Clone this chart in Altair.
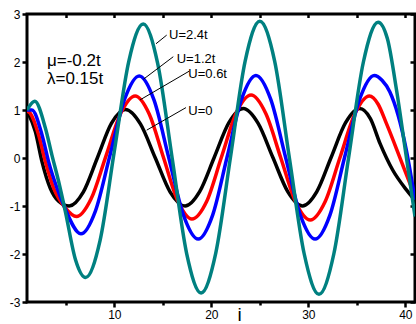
import altair as alt
import pandas as pd

# ---- data ----
series_names = ["U=0", "U=0.6t", "U=1.2t", "U=2.4t"]
series_colors = ["#000000", "#ff0000", "#0000ff", "#008080"]

x_u0 = [1, 1.86, 2.55, 3.4, 4.26, 5.35, 6.8, 8.25, 9.7, 11.15, 12.69, 14.23, 15.76, 17.3,
        18.8, 20.3, 21.8, 23.3, 24.83, 26.35, 27.88, 29.4, 30.88, 32.35, 33.83, 35.3,
        36.4, 37.4, 38.7, 40.1, 41]
y_u0 = [0.98, 0.55, -0.08, -0.63, -0.9, -1.0, -0.71, 0.0, 0.72, 1.01, 0.71, 0.0, -0.71, -1.0,
        -0.70, 0.01, 0.73, 1.03, 0.72, 0.01, -0.70, -1.0, -0.70, 0.01, 0.73, 1.03,
        0.82, 0.3, -0.25, -0.66, -0.88]

x_u06 = [1, 1.34, 2.2, 2.9, 3.75, 4.95, 6.1, 7.61, 9.12, 10.64, 12.15, 13.61, 15.07, 16.54, 18.0,
         19.53, 21.05, 22.58, 24.1, 25.63, 27.15, 28.68, 30.2, 31.73, 33.25, 34.78, 36.3,
         37.2, 38.05, 39.4, 40.45, 41]
y_u06 = [0.98, 0.93, 0.48, -0.08, -0.63, -1.04, -1.22, -0.85, 0.03, 0.92, 1.29, 0.91, 0.01, -0.89, -1.27,
         -0.90, 0.02, 0.94, 1.31, 0.92, 0.01, -0.91, -1.29, -0.91, 0.0, 0.91, 1.29,
         1.12, 0.72, 0.03, -0.52, -0.8]

x_u12 = [1, 1.5, 2.55, 3.23, 4.1, 4.78, 6.56, 8.06, 9.57, 11.07, 12.57, 14.09, 15.61, 17.13, 18.65,
         20.14, 21.63, 23.11, 24.6, 26.13, 27.65, 29.18, 30.7, 32.23, 33.75, 35.28, 36.8,
         37.6, 38.4, 40.1, 41]
y_u12 = [1.0, 1.0, 0.48, -0.08, -0.63, -0.98, -1.58, -1.10, 0.07, 1.23, 1.71, 1.21, 0.01, -1.19, -1.69,
         -1.19, 0.02, 1.22, 1.72, 1.22, 0.02, -1.19, -1.69, -1.19, 0.02, 1.22, 1.72,
         1.62, 1.38, 0.17, -0.87]

x_u24 = [1, 1.8, 2.9, 3.57, 4.26, 4.95, 6.0, 7.04, 8.53, 10.01, 11.5, 12.98, 14.47, 15.97, 17.46, 18.95,
         20.46, 21.98, 23.49, 25.0, 26.53, 28.05, 29.58, 31.1, 32.63, 34.15, 35.68, 37.2,
         38.15, 39.1, 40.05, 41]
y_u24 = [1.0, 1.18, 0.62, 0.06, -0.49, -1.11, -2.12, -2.49, -1.72, 0.15, 2.02, 2.79, 1.97, -0.01, -1.99, -2.81,
         -1.98, 0.02, 2.02, 2.85, 2.02, 0.0, -2.0, -2.84, -2.0, 0.0, 2.0, 2.83,
         2.49, 1.41, 0.1, -1.22]

x_ticks_bottom = [5, 10, 15, 20, 25, 30, 35, 40]
y_ticks = [-3, -2, -1, 0, 1, 2, 3]

# curve labels (text anchor) and leader lines
label_text = ["U=2.4t", "U=1.2t", "U=0.6t", "U=0"]
label_x = [15.64, 16.43, 17.63, 17.63]
label_y = [2.47, 1.98, 1.67, 0.89]
leader_x1 = [15.4, 16.08, 17.73, 17.39]
leader_y1 = [2.56, 2.11, 1.81, 1.05]
leader_x2 = [14.3, 13.0, 12.65, 13.34]
leader_y2 = [2.38, 1.64, 1.21, 0.58]

param_text = ["\u03bc=-0.2t", "\u03bb=0.15t"]
param_x = [3.06, 3.06]
param_y = [1.92, 1.54]

# ---- build tables ----
all_x = [x_u0, x_u06, x_u12, x_u24]
all_y = [y_u0, y_u06, y_u12, y_u24]
frames = []
for name, xs, ys in zip(series_names, all_x, all_y):
    frames.append(pd.DataFrame({"i": xs, "n": ys, "U": name}))
df = pd.concat(frames, ignore_index=True)

lab_df = pd.DataFrame({"x": label_x, "y": label_y, "t": label_text})
lead_df = pd.DataFrame({"x": leader_x1, "y": leader_y1, "x2": leader_x2, "y2": leader_y2})
par_df = pd.DataFrame({"x": param_x, "y": param_y, "t": param_text})

FONT = "Liberation Sans"
xscale = alt.Scale(domain=[1, 41], nice=False, zero=False)
yscale = alt.Scale(domain=[-3, 3], nice=False, zero=False)

bottom_axis = alt.Axis(
    orient="bottom", values=x_ticks_bottom, grid=False, domain=False,
    labelExpr="datum.value % 10 === 0 ? datum.label : ''",
    tickSize={"condition": {"test": "datum.value % 10 === 0", "value": 5}, "value": 3},
    tickWidth=2.5, tickColor="black", labelColor="black",
    labelFont=FONT, labelFontSize=12, labelPadding=2,
    title="i", titleFont=FONT, titleFontSize=19, titleFontWeight="normal",
    titleColor="black", titleX=212, titleY=18, titleAlign="center",
    titleBaseline="alphabetic", labelFlush=False, labelOverlap=False,
)
left_axis = alt.Axis(
    orient="left", values=y_ticks, grid=False, domain=False,
    labelExpr="'' + datum.value", tickSize=5, tickWidth=2.5,
    tickColor="black", labelColor="black", labelFont=FONT, labelFontSize=12,
    labelPadding=2, title=None, labelFlush=False, labelOverlap=False,
)
top_axis = alt.Axis(
    orient="top", values=x_ticks_bottom, grid=False, domain=False, labels=False,
    tickSize=3.5, offset=-3.5, tickWidth=2.5, tickColor="black", title=None,
)
right_axis = alt.Axis(
    orient="right", values=y_ticks, grid=False, domain=False, labels=False,
    tickSize=5, offset=-5, tickWidth=2.5, tickColor="black", title=None,
)

layers = []
# invisible layer carrying the top/right ticks
layers.append(
    alt.Chart(df).mark_line(opacity=0).encode(
        x=alt.X("i:Q", scale=xscale, axis=top_axis),
        y=alt.Y("n:Q", scale=yscale, axis=right_axis),
        detail="U:N",
    )
)
for k, (name, color) in enumerate(zip(series_names, series_colors)):
    layers.append(
        alt.Chart(df).transform_filter(alt.datum.U == name)
        .mark_line(interpolate="monotone", strokeWidth=3.5, color=color, clip=True)
        .encode(
            x=alt.X("i:Q", scale=xscale, axis=bottom_axis if k == 0 else None),
            y=alt.Y("n:Q", scale=yscale, axis=left_axis if k == 0 else None),
        )
    )

leaders = alt.Chart(lead_df).mark_rule(color="black", strokeWidth=1).encode(
    x=alt.X("x:Q", scale=xscale, axis=None), y=alt.Y("y:Q", scale=yscale, axis=None),
    x2="x2:Q", y2="y2:Q",
)
labels = alt.Chart(lab_df).mark_text(
    align="left", baseline="alphabetic", font=FONT, fontSize=13, color="black"
).encode(
    x=alt.X("x:Q", scale=xscale, axis=None), y=alt.Y("y:Q", scale=yscale, axis=None), text="t:N"
)
params = alt.Chart(par_df).mark_text(
    align="left", baseline="alphabetic", font=FONT, fontSize=17, color="black"
).encode(
    x=alt.X("x:Q", scale=xscale, axis=None), y=alt.Y("y:Q", scale=yscale, axis=None), text="t:N"
)
layers += [leaders, labels, params]

chart = (
    alt.layer(*layers)
    .resolve_axis(x="independent", y="independent")
    .properties(
        width=388, height=288,
        autosize=alt.AutoSizeParams(type="none"),
        padding={"left": 27, "top": 14, "right": 1, "bottom": 22},
        background="white",
    )
    .configure_view(stroke="black", strokeWidth=3)
)

chart.save("out.html", embed_options={"renderer": "svg", "actions": False})
